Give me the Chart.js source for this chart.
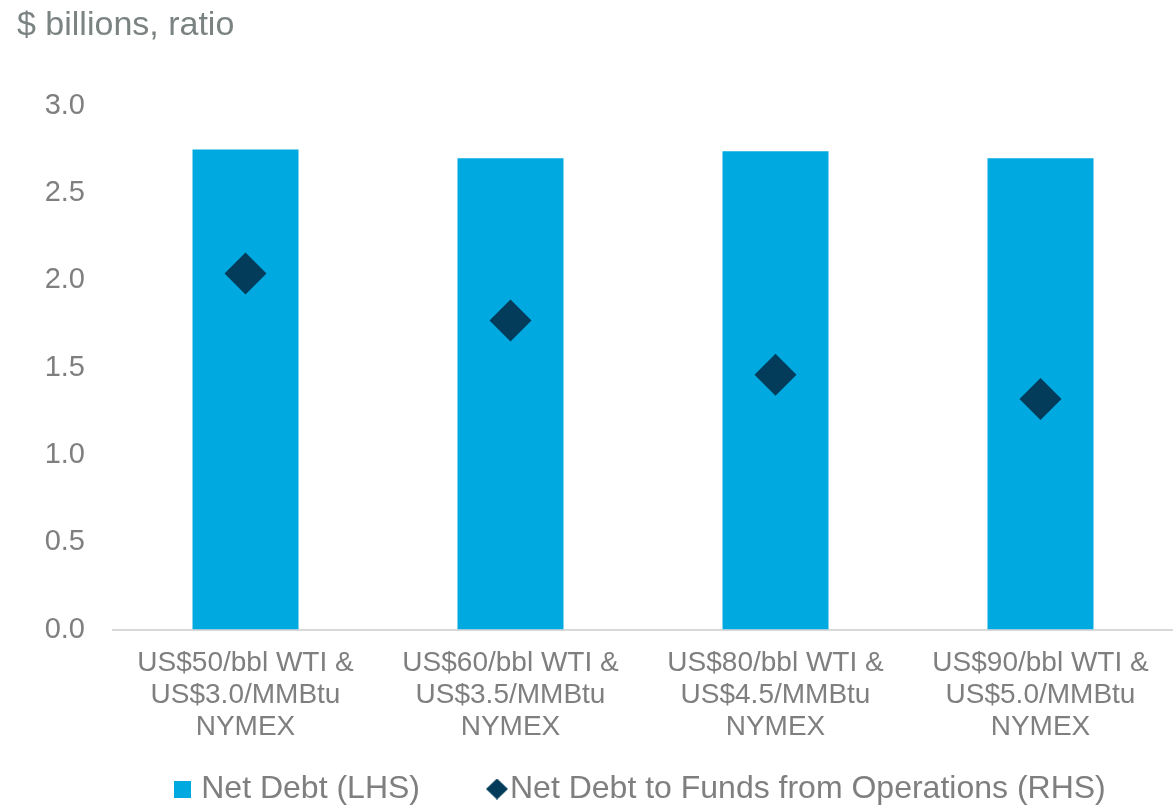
<!DOCTYPE html>
<html>
<head>
<meta charset="utf-8">
<script src="https://cdn.jsdelivr.net/npm/chart.js@4.4.1/dist/chart.umd.min.js"></script>
<style>
  html, body { margin: 0; padding: 0; background: #ffffff; overflow: hidden; }
  #wrap { width: 1173px; height: 807px; position: relative; }
  canvas { display: block; }
</style>
</head>
<body>
<div id="wrap"><canvas id="debtChart"></canvas></div>
<script>
// price decks along the x axis
const scenarios = [
  ['US$50/bbl WTI &', 'US$3.0/MMBtu', 'NYMEX'],
  ['US$60/bbl WTI &', 'US$3.5/MMBtu', 'NYMEX'],
  ['US$80/bbl WTI &', 'US$4.5/MMBtu', 'NYMEX'],
  ['US$90/bbl WTI &', 'US$5.0/MMBtu', 'NYMEX']
];
const netDebt = [2.75, 2.70, 2.74, 2.70];       // $ billions (LHS)
const debtToFfo = [2.04, 1.77, 1.46, 1.32];     // ratio (RHS)
const axisMin = 0;
const axisMax = 3.0;
const axisStep = 0.5;

const BLUE = '#00A9E0';
const NAVY = '#023C5A';
const GREY = '#7F7F7F';
const FONT = 'Arial, "Liberation Sans", Helvetica, sans-serif';

// little swatches for the legend
function makeSwatch(w, h, draw) {
  const c = document.createElement('canvas');
  c.width = w;
  c.height = h;
  draw(c.getContext('2d'), w, h);
  return c;
}
const squareSwatch = makeSwatch(17, 17, (g, w, h) => {
  g.fillStyle = BLUE;
  g.fillRect(0, 0, w, h);
});
// diamond sits on the right of its canvas so the label text hugs it
const diamondSwatch = makeSwatch(33, 21, (g, w, h) => {
  const left = 11;
  const mid = left + (w - left) / 2;
  g.fillStyle = NAVY;
  g.beginPath();
  g.moveTo(mid, 0);
  g.lineTo(w, h / 2);
  g.lineTo(mid, h);
  g.lineTo(left, h / 2);
  g.closePath();
  g.fill();
});

const ctx = document.getElementById('debtChart');
const chart = new Chart(ctx, {
  type: 'bar',
  data: {
    labels: scenarios,
    datasets: [
      {
        type: 'line',
        label: 'Net Debt to Funds from Operations (RHS)',
        data: debtToFfo,
        yAxisID: 'y1',
        showLine: false,
        pointStyle: 'rectRot',
        pointRadius: 21,
        pointHoverRadius: 21,
        pointBackgroundColor: NAVY,
        pointBorderColor: NAVY,
        pointBorderWidth: 0,
        backgroundColor: NAVY,
        borderColor: NAVY,
        order: 0
      },
      {
        label: 'Net Debt (LHS)',
        data: netDebt,
        yAxisID: 'y',
        backgroundColor: BLUE,
        borderWidth: 0,
        barPercentage: 0.4,
        categoryPercentage: 1.0,
        order: 1
      }
    ]
  },
  options: {
    responsive: true,
    maintainAspectRatio: false,
    animation: false,
    layout: {
      autoPadding: false,
      padding: { left: 17, right: 0, top: 0, bottom: -8 }
    },
    scales: {
      x: {
        grid: { display: false },
        border: { display: true, color: '#D9D9D9', width: 2 },
        ticks: {
          color: GREY,
          padding: 9,
          maxRotation: 0,
          autoSkip: false,
          font: { family: FONT, size: 28, lineHeight: 1.16 }
        },
        afterFit: scale => {
          scale.paddingLeft = 0;
          scale.paddingRight = 0;
          scale.height += 15;
        }
      },
      y: {
        position: 'left',
        min: axisMin,
        max: axisMax,
        grid: { display: false, drawTicks: false },
        border: { display: false },
        ticks: {
          stepSize: axisStep,
          color: GREY,
          padding: 28,
          font: { family: FONT, size: 29 },
          callback: v => v.toFixed(1)
        },
        afterFit: scale => { scale.width = 96; }
      },
      y1: {
        display: false,
        min: axisMin,
        max: axisMax
      }
    },
    plugins: {
      title: {
        display: true,
        text: '$ billions, ratio',
        align: 'start',
        color: '#7A8282',
        font: { family: FONT, size: 34, weight: 'normal' },
        padding: { top: 5, bottom: 60 }
      },
      legend: {
        position: 'bottom',
        fullSize: false,
        reverse: true,
        labels: {
          usePointStyle: true,
          boxWidth: 5,
          boxHeight: 17,
          padding: 5,
          color: GREY,
          font: { family: FONT, size: 32, lineHeight: 1.0 },
          generateLabels: c => {
            const items = Chart.defaults.plugins.legend.labels.generateLabels(c);
            items.forEach(it => {
              if (it.datasetIndex === 1) {
                it.pointStyle = squareSwatch;
                it.text += '\u2003\u2003';
              } else {
                it.pointStyle = diamondSwatch;
              }
            });
            return items;
          }
        }
      },
      tooltip: { enabled: false }
    }
  }
});
</script>
</body>
</html>
